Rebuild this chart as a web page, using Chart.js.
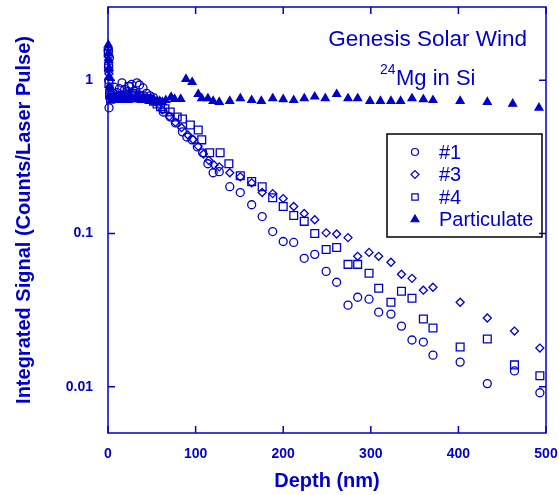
<!DOCTYPE html>
<html>
<head>
<meta charset="utf-8">
<script src="https://cdn.jsdelivr.net/npm/chart.js@4.4.1/dist/chart.umd.min.js"></script>
<style>
    html, body { margin: 0; padding: 0; background: #fff; }
</style>
</head>
<body>
<canvas id="myChart" width="559" height="495"></canvas>
<script>
// data (depth in nm, signal in counts/laser pulse)
const depth1 = [0.3, 0.6, 0.9, 1.2, 1.6, 2, 4, 7, 10, 13, 16, 19, 22, 24, 27, 30, 33, 36, 40, 44, 48, 52, 57, 63, 71, 77, 85, 90, 96, 102, 108, 114, 120, 127, 139, 151, 164, 176, 188, 200, 212, 224, 236, 249, 261, 274, 285, 298, 309, 323, 335, 347, 360, 371, 402, 433, 464, 493];
const signal1 = [1.55, 1.25, 1.0, 0.66, 1.4, 0.85, 0.8, 0.9, 0.83, 0.88, 0.96, 0.87, 0.84, 0.91, 0.94, 0.85, 0.96, 0.93, 0.89, 0.82, 0.79, 0.77, 0.72, 0.62, 0.575, 0.526, 0.46, 0.426, 0.408, 0.367, 0.336, 0.285, 0.249, 0.253, 0.202, 0.185, 0.154, 0.129, 0.103, 0.0887, 0.0874, 0.0689, 0.0731, 0.0566, 0.0481, 0.0341, 0.0384, 0.0373, 0.0307, 0.0298, 0.0249, 0.0202, 0.0196, 0.0161, 0.0145, 0.0105, 0.0127, 0.00915];

const depth3 = [0.3, 0.6, 1, 1.5, 2.5, 5, 8, 12, 16, 20, 24, 28, 32, 36, 40, 45, 50, 55, 62, 70, 77, 84, 91, 97, 103, 109, 115, 121, 127, 139, 151, 164, 176, 188, 200, 212, 224, 236, 249, 261, 274, 285, 298, 309, 323, 335, 347, 360, 371, 402, 433, 464, 493];
const signal3 = [1.6, 1.35, 1.1, 0.9, 0.78, 0.76, 0.78, 0.8, 0.77, 0.79, 0.78, 0.8, 0.79, 0.78, 0.77, 0.76, 0.74, 0.72, 0.64, 0.58, 0.53, 0.49, 0.44, 0.41, 0.37, 0.33, 0.30, 0.28, 0.272, 0.249, 0.234, 0.214, 0.185, 0.182, 0.169, 0.150, 0.135, 0.123, 0.101, 0.0993, 0.094, 0.071, 0.0753, 0.071, 0.0649, 0.0542, 0.051, 0.0427, 0.0446, 0.0356, 0.0281, 0.0231, 0.0179];

const depth4 = [0.3, 0.7, 1.1, 1.8, 3, 6, 9, 12, 16, 20, 24, 28, 32, 36, 40, 44, 48, 52, 56, 60, 65, 71, 79, 85, 94, 103, 107, 116, 128, 138, 151, 164, 176, 188, 200, 212, 224, 236, 249, 261, 274, 285, 298, 309, 323, 335, 347, 360, 371, 402, 433, 464, 493];
const signal4 = [1.5, 1.2, 0.95, 0.8, 0.75, 0.77, 0.78, 0.76, 0.79, 0.8, 0.91, 0.82, 0.8, 0.79, 0.78, 0.76, 0.75, 0.73, 0.7, 0.67, 0.65, 0.62, 0.575, 0.558, 0.51, 0.473, 0.408, 0.336, 0.336, 0.285, 0.238, 0.218, 0.202, 0.171, 0.150, 0.131, 0.120, 0.100, 0.0787, 0.0811, 0.0629, 0.0629, 0.055, 0.044, 0.0356, 0.042, 0.0378, 0.0277, 0.0242, 0.0182, 0.0205, 0.0139, 0.0118];

const depthP = [0.3, 0.6, 0.9, 1.2, 1.5, 2, 3, 5, 8, 11, 14, 17, 20, 23, 26, 29, 32, 35, 38, 41, 44, 47, 50, 53, 56, 59, 62, 66, 72, 76, 83, 89, 96, 103, 107, 114, 120, 127, 139, 151, 164, 175, 188, 200, 212, 224, 236, 248, 261, 274, 285, 299, 311, 323, 334, 347, 360, 371, 402, 433, 462, 492];
const signalP = [1.7, 1.5, 1.35, 1.2, 1.05, 0.9, 0.78, 0.74, 0.76, 0.75, 0.74, 0.76, 0.75, 0.74, 0.76, 0.75, 0.76, 0.75, 0.74, 0.76, 0.75, 0.73, 0.74, 0.73, 0.72, 0.73, 0.72, 0.74, 0.776, 0.753, 0.753, 1.015, 0.97, 0.81, 0.76, 0.76, 0.73, 0.72, 0.73, 0.76, 0.74, 0.73, 0.76, 0.75, 0.74, 0.76, 0.78, 0.76, 0.81, 0.76, 0.76, 0.73, 0.73, 0.73, 0.73, 0.76, 0.75, 0.74, 0.73, 0.72, 0.70, 0.66];

const seriesNames = ['#1', '#3', '#4', 'Particulate'];
const xTicks = [0, 100, 200, 300, 400, 500];
const yTicks = [0.01, 0.1, 1];

const blue = '#0000cc';
const fontFamily = 'Arial, "Liberation Sans", sans-serif';

function toPoints(xs, ys) {
    return xs.map((x, i) => ({ x: x, y: ys[i] }));
}

// box round the plot, inward ticks, text labels and the legend
const decorations = {
    id: 'decorations',
    afterDraw(chart) {
        const c = chart.ctx;
        const a = chart.chartArea;
        const xs = chart.scales.x;
        const ys = chart.scales.y;
        c.save();
        c.strokeStyle = blue;
        c.lineWidth = 1.5;
        c.strokeRect(a.left, a.top, a.right - a.left, a.bottom - a.top);
        c.beginPath();
        xTicks.forEach(v => {
            const px = xs.getPixelForValue(v);
            c.moveTo(px, a.bottom); c.lineTo(px, a.bottom - 7);
            c.moveTo(px, a.top); c.lineTo(px, a.top + 7);
        });
        yTicks.forEach(v => {
            const py = ys.getPixelForValue(v);
            c.moveTo(a.left, py); c.lineTo(a.left + 7, py);
            c.moveTo(a.right, py); c.lineTo(a.right - 7, py);
        });
        c.stroke();

        // annotation
        c.fillStyle = blue;
        c.textBaseline = 'alphabetic';
        c.textAlign = 'right';
        c.font = '22.5px ' + fontFamily;
        c.fillText('Genesis Solar Wind', 527, 46);
        c.textAlign = 'left';
        c.font = '22px ' + fontFamily;
        c.fillText('Mg in Si', 396, 85);
        c.font = '14px ' + fontFamily;
        c.fillText('24', 380, 74);

        // legend
        c.strokeStyle = '#000';
        c.lineWidth = 1.5;
        c.strokeRect(387, 134, 155, 103);
        c.font = '20px ' + fontFamily;
        c.textBaseline = 'middle';
        const sizes = [3.5, 4, 4.5, 4.5];
        chart.data.datasets.forEach((ds, i) => {
            const y = 152 + i * 22.5;
            c.strokeStyle = blue;
            c.fillStyle = ds.pointStyle === 'triangle' ? blue : 'rgba(0,0,0,0)';
            c.lineWidth = 1.2;
            Chart.helpers.drawPoint(c, { pointStyle: ds.pointStyle, radius: sizes[i], rotation: 0, borderWidth: 1.2 }, 415, y);
            c.fillStyle = blue;
            c.fillText(ds.label, 439, y + 1);
        });
        c.restore();
    }
};

const ctx = document.getElementById('myChart');

function makeSet(label, xs, ys, style, radius, filled) {
    return {
        label: label,
        data: toPoints(xs, ys),
        pointStyle: style,
        pointRadius: radius,
        pointBorderWidth: 1.3,
        pointBorderColor: blue,
        pointBackgroundColor: filled ? blue : 'rgba(0,0,0,0)',
        showLine: false,
        clip: false
    };
}

new Chart(ctx, {
    type: 'scatter',
    data: {
        datasets: [
            makeSet(seriesNames[0], depth1, signal1, 'circle', 4, false),
            makeSet(seriesNames[1], depth3, signal3, 'rectRot', 4, false),
            makeSet(seriesNames[2], depth4, signal4, 'rect', 5.5, false),
            makeSet(seriesNames[3], depthP, signalP, 'triangle', 4.5, true)
        ]
    },
    options: {
        responsive: false,
        animation: false,
        layout: { padding: { top: 7, right: 13, left: 0, bottom: 0 } },
        plugins: {
            legend: { display: false },
            tooltip: { enabled: false }
        },
        scales: {
            x: {
                type: 'linear',
                min: 0,
                max: 500,
                grid: { display: false, drawTicks: false },
                border: { display: false },
                afterBuildTicks: s => { s.ticks = xTicks.map(v => ({ value: v })); },
                afterFit: s => { s.height = 62; s.paddingLeft = 0; s.paddingRight = 0; },
                ticks: {
                    color: blue,
                    padding: 13,
                    maxRotation: 0,
                    font: { family: fontFamily, size: 14, weight: 'bold' }
                },
                title: {
                    display: true,
                    text: 'Depth (nm)',
                    color: blue,
                    padding: { top: 0, bottom: 2 },
                    font: { family: fontFamily, size: 20, weight: 'bold' }
                }
            },
            y: {
                type: 'logarithmic',
                min: 0.005,
                max: 3,
                grid: { display: false, drawTicks: false },
                border: { display: false },
                afterBuildTicks: s => { s.ticks = yTicks.map(v => ({ value: v })); },
                afterFit: s => { s.width = 108; s.paddingTop = 0; s.paddingBottom = 0; },
                ticks: {
                    color: blue,
                    padding: 15,
                    callback: v => String(v),
                    font: { family: fontFamily, size: 14, weight: 'bold' }
                },
                title: {
                    display: true,
                    text: 'Integrated Signal (Counts/Laser Pulse)',
                    color: blue,
                    padding: { top: 12, bottom: 0 },
                    font: { family: fontFamily, size: 20, weight: 'bold' }
                }
            }
        }
    },
    plugins: [decorations]
});
</script>
</body>
</html>
